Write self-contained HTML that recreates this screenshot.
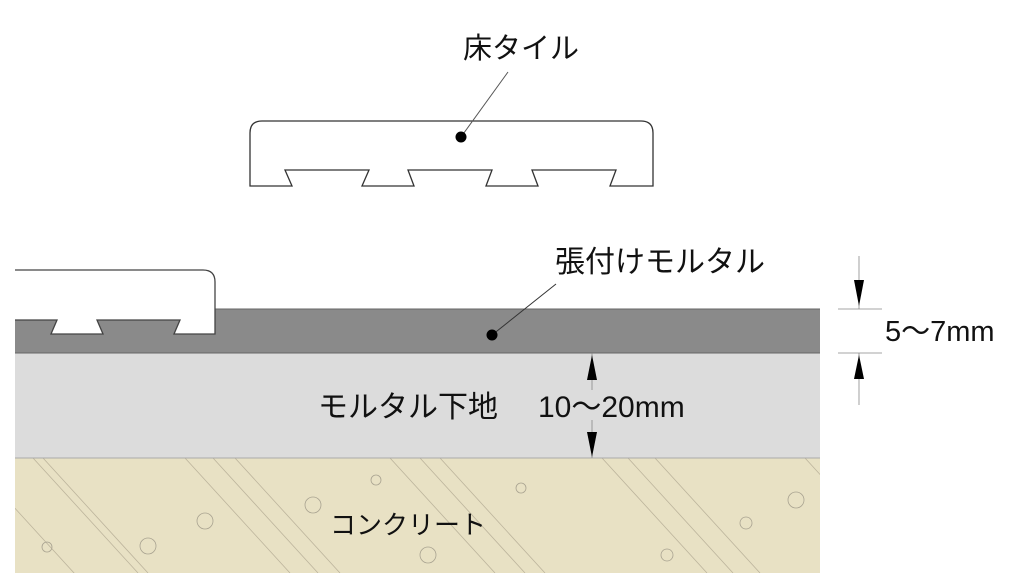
<!DOCTYPE html>
<html><head><meta charset="utf-8"><style>
html,body{margin:0;padding:0;background:#fff;}
svg{display:block;}
text{font-family:"Liberation Sans","Noto Sans CJK JP",sans-serif;fill:#111;}
</style></head><body>
<svg width="1018" height="587" viewBox="0 0 1018 587">
<defs><clipPath id="cc"><rect x="15" y="458" width="805" height="115"/></clipPath></defs>
<rect x="15" y="458" width="805" height="115" fill="#e8e1c4"/>
<g clip-path="url(#cc)" stroke="#bcb49c" stroke-width="0.8" fill="none">
<line x1="33" y1="458" x2="138" y2="573"/><line x1="43" y1="458" x2="148" y2="573"/>
<line x1="-20" y1="470" x2="85" y2="585"/>
<line x1="185" y1="458" x2="290" y2="573"/><line x1="213" y1="458" x2="318" y2="573"/><line x1="235" y1="458" x2="340" y2="573"/>
<line x1="390" y1="458" x2="495" y2="573"/><line x1="420" y1="458" x2="525" y2="573"/><line x1="440" y1="458" x2="545" y2="573"/>
<line x1="602" y1="458" x2="707" y2="573"/><line x1="628" y1="458" x2="733" y2="573"/><line x1="655" y1="458" x2="760" y2="573"/>
<line x1="805" y1="458" x2="910" y2="573"/>
</g>
<g stroke="#a8a290" stroke-width="0.8" fill="none">
<circle cx="47" cy="547" r="5"/><circle cx="148" cy="546" r="8"/><circle cx="205" cy="521" r="8"/>
<circle cx="313" cy="505" r="8"/><circle cx="376" cy="480" r="5"/><circle cx="428" cy="555" r="8"/>
<circle cx="521" cy="488" r="5"/><circle cx="667" cy="555" r="6"/><circle cx="746" cy="523" r="6"/><circle cx="796" cy="500" r="8"/>
</g>
<rect x="15" y="353" width="805" height="105" fill="#dcdcdc"/>
<line x1="15" y1="458" x2="820" y2="458" stroke="#aaa" stroke-width="1"/>
<rect x="15" y="309" width="805" height="44" fill="#8a8a8a"/>
<line x1="15" y1="309" x2="820" y2="309" stroke="#666" stroke-width="1"/>
<line x1="15" y1="353" x2="820" y2="353" stroke="#666" stroke-width="1"/>
<path d="M15,270 L203,270 Q215,270 215,282 L215,334 L174,334 L180,320 L97,320 L103,334 L51,334 L57,320 L15,320" fill="#fff" stroke="#444" stroke-width="1.3"/>
<path d="M250,186 L250,133 Q250,121 262,121 L641,121 Q653,121 653,133 L653,186 L610,186 L616,170 L532,170 L538,186 L486,186 L492,170 L408,170 L414,186 L362,186 L369,170 L285,170 L292,186 Z" fill="#fff" stroke="#333" stroke-width="1.3"/>
<line x1="461" y1="137" x2="508" y2="72" stroke="#555" stroke-width="1"/>
<circle cx="461" cy="137" r="5.5" fill="#000"/>
<line x1="492" y1="335" x2="556" y2="284" stroke="#333" stroke-width="1"/>
<circle cx="492" cy="335" r="5.5" fill="#000"/>
<g stroke="#888" stroke-width="0.8">
<line x1="859" y1="256" x2="859" y2="309"/><line x1="859" y1="353" x2="859" y2="405"/>
<line x1="838" y1="309" x2="882" y2="309"/><line x1="838" y1="353" x2="882" y2="353"/>
<line x1="592" y1="353" x2="592" y2="390"/><line x1="592" y1="420" x2="592" y2="458"/>
</g>
<polygon points="854,280 864,280 859,306" fill="#000"/>
<polygon points="854,379 864,379 859,355" fill="#000"/>
<polygon points="587,380 597,380 592,355" fill="#000"/>
<polygon points="587,432 597,432 592,457" fill="#000"/>
<text x="463" y="58" font-size="29">床タイル</text>
<text x="555" y="272" font-size="30">張付けモルタル</text>
<text x="885" y="341" font-size="29">5〜7mm</text>
<text x="318" y="417" font-size="30">モルタル下地</text>
<text x="538" y="417" font-size="30">10〜20mm</text>
<text x="330" y="534" font-size="26">コンクリート</text>
</svg>
</body></html>
